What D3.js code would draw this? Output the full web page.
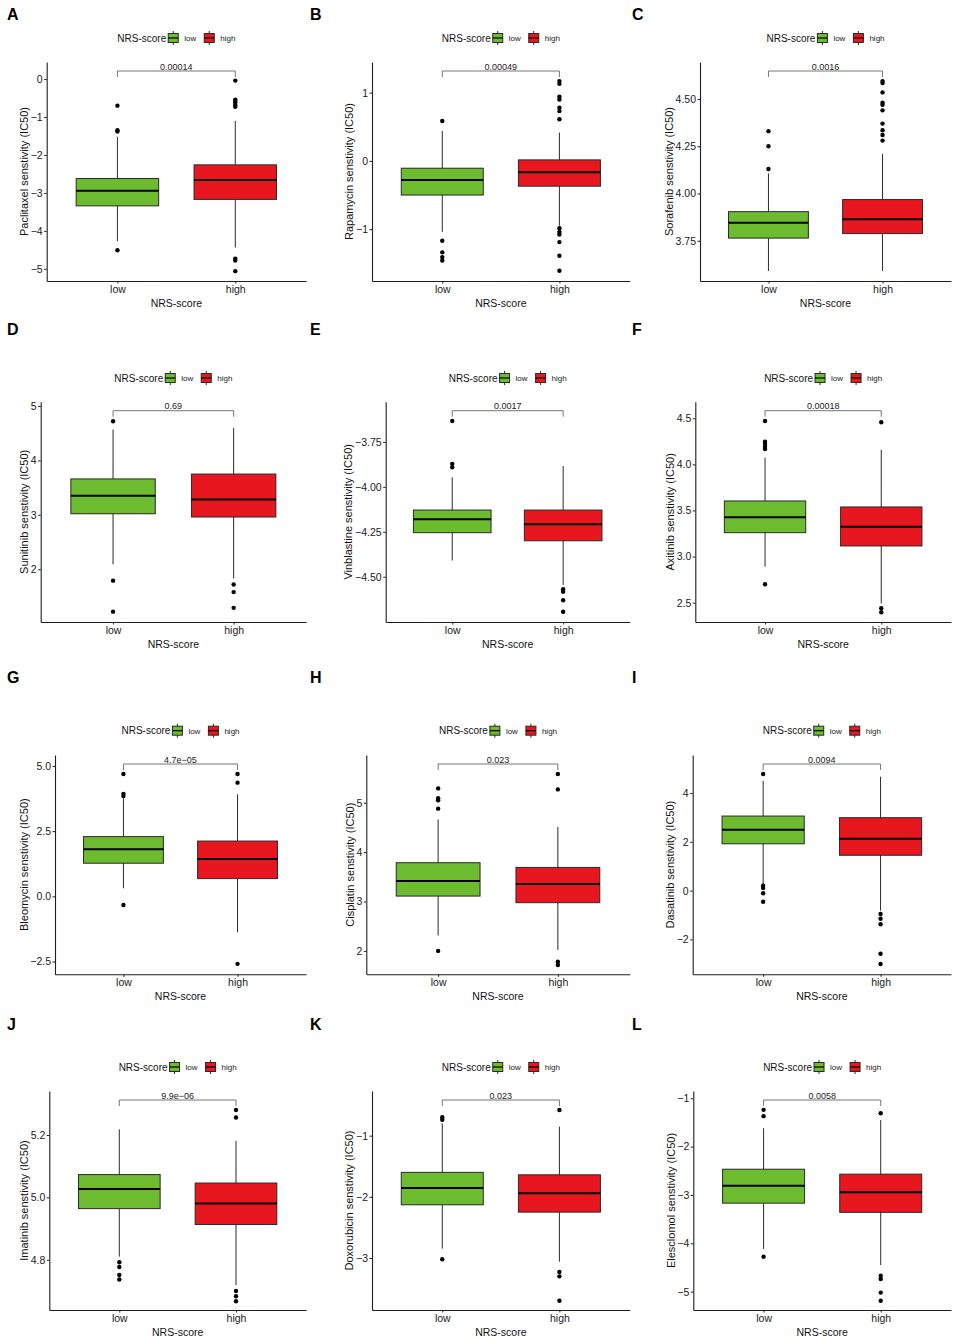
<!DOCTYPE html>
<html><head><meta charset="utf-8">
<script src="https://cdn.jsdelivr.net/npm/d3@7"></script>
<style>
body{margin:0;background:#fff;}
svg{display:block;font-family:"Liberation Sans",Arial,Helvetica,sans-serif;}
</style>
</head><body>
<svg id="chart" width="954" height="1339"></svg>
<script>
// ---------------- DATA ----------------
const panelLetters = ["A","B","C","D","E","F","G","H","I","J","K","L"];
const drugs = ["Paclitaxel","Rapamycin","Sorafenib","Sunitinib","Vinblastine","Axitinib",
               "Bleomycin","Cisplatin","Dasatinib","Imatinib","Doxorubicin","Elesclomol"];
const groups = ["low","high"];
const legendTitle = "NRS-score";
const pValues = ["0.00014","0.00049","0.0016","0.69","0.0017","0.00018",
                 "4.7e\u221205","0.023","0.0094","9.9e\u221206","0.023","0.0058"];
// box stats: [lower whisker, Q1, median, Q3, upper whisker]
const lowStats = [
  [-4.27,-3.34,-2.94,-2.62,-1.52],
  [-1.04,-0.50,-0.28,-0.107,0.44],
  [3.59,3.764,3.845,3.904,4.106],
  [2.09,3.02,3.35,3.66,4.57],
  [-4.41,-4.255,-4.18,-4.129,-3.947],
  [2.89,3.259,3.426,3.603,4.073],
  [0.31,1.27,1.806,2.29,3.76],
  [2.31,3.11,3.415,3.785,4.66],
  [0.27,1.92,2.5,3.057,4.5],
  [4.81,4.964,5.027,5.073,5.218],
  [-2.846,-2.13,-1.855,-1.60,-0.80],
  [-4.12,-3.17,-2.81,-2.468,-1.62]
];
const highStats = [
  [-4.44,-3.17,-2.66,-2.26,-1.10],
  [-0.95,-0.37,-0.166,0.015,0.415],
  [3.59,3.788,3.864,3.968,4.21],
  [1.83,2.96,3.28,3.75,4.60],
  [-4.546,-4.30,-4.208,-4.129,-3.884],
  [2.49,3.115,3.324,3.538,4.156],
  [-1.38,0.68,1.43,2.12,3.91],
  [2.02,2.976,3.354,3.69,4.51],
  [-0.82,1.45,2.13,2.99,4.67],
  [4.719,4.913,4.98,5.046,5.181],
  [-3.06,-2.25,-1.94,-1.64,-0.853],
  [-4.45,-3.36,-2.944,-2.57,-1.45]
];
const lowOutliers = [
  [-0.70,-1.35,-1.38,-4.51],
  [0.585,-1.17,-1.34,-1.41,-1.46],
  [4.33,4.25,4.13],
  [4.72,1.79,1.22],
  [-3.633,-3.872,-3.891],
  [4.47,4.246,4.22,4.19,4.167,2.70],
  [4.69,3.93,3.85,-0.33],
  [5.29,5.09,5.05,4.88,2.0],
  [4.78,0.2,0.107,-0.11,-0.455],
  [4.792,4.777,4.751,4.737],
  [-0.70,-0.74,-3.02],
  [-1.24,-1.37,-4.28]
];
const highOutliers = [
  [-0.04,-0.54,-0.58,-0.62,-0.68,-0.73,-4.73,-4.78,-5.06],
  [1.17,1.13,0.94,0.90,0.78,0.73,0.61,-0.985,-1.04,-1.08,-1.19,-1.39,-1.61],
  [4.595,4.585,4.535,4.48,4.47,4.44,4.37,4.335,4.31,4.28],
  [1.72,1.58,1.29],
  [-4.57,-4.583,-4.631,-4.695],
  [4.457,2.44,2.396],
  [4.69,4.36,-2.59],
  [5.58,5.27,1.78,1.715],
  [-0.96,-1.15,-1.38,-2.59,-3.01],
  [5.28,5.256,4.70,4.683,4.667],
  [-0.58,-3.23,-3.30,-3.70],
  [-1.31,-4.67,-4.74,-5.02,-5.19]
];
const yDomains = [
  [-5.32,0.45],[-1.76,1.45],[3.537,4.696],
  [1.03,5.08],[-4.752,-3.526],[2.29,4.68],
  [-2.99,5.42],[1.526,5.966],[-3.43,5.56],
  [4.639,5.341],[-3.85,-0.27],[-5.38,-0.85]
];
const yTickLabels = [
  ["\u22125","\u22124","\u22123","\u22122","\u22121","0"],
  ["\u22121","0","1"],
  ["3.75","4.00","4.25","4.50"],
  ["2","3","4","5"],
  ["\u22124.50","\u22124.25","\u22124.00","\u22123.75"],
  ["2.5","3.0","3.5","4.0","4.5"],
  ["\u22122.5","0.0","2.5","5.0"],
  ["2","3","4","5"],
  ["\u22122","0","2","4"],
  ["4.8","5.0","5.2"],
  ["\u22123","\u22122","\u22121"],
  ["\u22125","\u22124","\u22123","\u22122","\u22121"]
];

// ---------------- LAYOUT / STYLE ----------------
const rowLayout = [
  {top:62,    bottom:281,   legendY:38,    letterY:14},
  {top:401.7, bottom:622,   legendY:378,   letterY:329},
  {top:755,   bottom:974.3, legendY:730.7, letterY:677},
  {top:1091,  bottom:1310,  legendY:1067,  letterY:1024}
];
const colRight = [306, 629.7, 951];
const colLetterX = [7, 310, 632];
const axisLeftX = [46.7,372,700, 40.7,385.7,695.3, 55,366.3,692.7, 49.3,372,693.3];
const fills = {low:"#6DBB2E", high:"#E8161F"};
const ink = "#1e1e1e";

const svg = d3.select("#chart");
const parseLab = s => +s.replace("\u2212","-");

panelLetters.forEach((letter, i) => {
  const row = rowLayout[Math.floor(i/3)];
  const col = i % 3;
  const x0 = axisLeftX[i], x1 = colRight[col];
  const g = svg.append("g");

  // panel letter
  g.append("text").attr("x", colLetterX[col]).attr("y", row.letterY + 5.6)
    .attr("font-size", 16).attr("font-weight", "bold").attr("fill", "#000").text(letter);

  const x = d3.scalePoint().domain(groups).range([x0, x1]).padding(0.6);
  const y = d3.scaleLinear().domain(yDomains[i]).range([row.bottom, row.top]);
  const boxW = 0.7 * x.step();

  // y axis
  const yAx = g.append("g").attr("transform", `translate(${x0},0)`)
    .call(d3.axisLeft(y).tickValues(yTickLabels[i].map(parseLab))
      .tickFormat((d, k) => yTickLabels[i][k]).tickSize(2.5).tickPadding(1.5).tickSizeOuter(0));
  yAx.selectAll("text").attr("font-size", 10.5).attr("fill", "#1a1a1a")
    .attr("font-family", "'Liberation Sans',Arial,sans-serif");
  yAx.select(".domain").attr("stroke", ink).attr("stroke-width", 1.1);
  yAx.selectAll(".tick line").attr("stroke", ink);
  let maxW = 0;
  yAx.selectAll("text").each(function(){ maxW = Math.max(maxW, this.getComputedTextLength()); });

  // x axis
  const xAx = g.append("g").attr("transform", `translate(0,${row.bottom})`)
    .call(d3.axisBottom(x).tickSize(2.5).tickPadding(2).tickSizeOuter(0));
  xAx.selectAll("text").attr("font-size", 10.5).attr("fill", "#1a1a1a")
    .attr("font-family", "'Liberation Sans',Arial,sans-serif");
  xAx.select(".domain").attr("stroke", ink).attr("stroke-width", 1.1);
  xAx.selectAll(".tick line").attr("stroke", ink);

  // axis titles
  g.append("text").attr("x", (x0 + x1) / 2).attr("y", row.bottom + 25.8)
    .attr("text-anchor", "middle").attr("font-size", 10.5).attr("fill", "#111").text(legendTitle);
  const ty = (row.top + row.bottom) / 2, tx = x0 - 4 - maxW - 6.5;
  g.append("text").attr("transform", `translate(${tx},${ty}) rotate(-90)`)
    .attr("text-anchor", "middle").attr("dy", "0.35em").attr("font-size", 11).attr("fill", "#111")
    .text(`${drugs[i]} senstivity (IC50)`);

  // boxes
  const stats = {low: lowStats[i], high: highStats[i]};
  const outs = {low: lowOutliers[i], high: highOutliers[i]};
  groups.forEach(grp => {
    const s = stats[grp], cx = x(grp);
    g.append("line").attr("x1", cx).attr("x2", cx).attr("y1", y(s[0])).attr("y2", y(s[4]))
      .attr("stroke", "#2b2b2b").attr("stroke-width", 1);
    g.append("rect").attr("x", cx - boxW/2).attr("width", boxW)
      .attr("y", y(s[3])).attr("height", y(s[1]) - y(s[3]))
      .attr("fill", fills[grp]).attr("stroke", "#2a2a2a").attr("stroke-width", 1);
    g.append("line").attr("x1", cx - boxW/2).attr("x2", cx + boxW/2)
      .attr("y1", y(s[2])).attr("y2", y(s[2])).attr("stroke", "#000").attr("stroke-width", 2);
    g.selectAll(null).data(outs[grp]).enter().append("circle")
      .attr("cx", cx).attr("cy", d => y(d)).attr("r", 2.2).attr("fill", "#000");
  });

  // significance bracket
  const by = row.top + 9;
  g.append("path")
    .attr("d", `M${x("low")},${by + 6}V${by}H${x("high")}V${by + 6}`)
    .attr("fill", "none").attr("stroke", "#666").attr("stroke-width", 0.9);
  g.append("text").attr("x", (x("low") + x("high")) / 2).attr("y", by - 1.5)
    .attr("text-anchor", "middle").attr("font-size", 9).attr("fill", "#222").text(pValues[i]);

  // legend
  const lg = g.append("g");
  const ly = row.legendY;
  const tTitle = lg.append("text").attr("y", ly).attr("dy", "0.35em")
    .attr("font-size", 10).attr("fill", "#111").text(legendTitle);
  const wTitle = tTitle.node().getComputedTextLength();
  let cur = wTitle + 2;
  groups.forEach((grp, k) => {
    const kx = cur;
    lg.append("line").attr("x1", kx + 5).attr("x2", kx + 5).attr("y1", ly - 7).attr("y2", ly + 7)
      .attr("stroke", "#2b2b2b").attr("stroke-width", 1);
    lg.append("rect").attr("x", kx).attr("y", ly - 4.5).attr("width", 10).attr("height", 9)
      .attr("fill", fills[grp]).attr("stroke", "#2a2a2a").attr("stroke-width", 1);
    lg.append("line").attr("x1", kx).attr("x2", kx + 10).attr("y1", ly).attr("y2", ly)
      .attr("stroke", "#000").attr("stroke-width", 1.2);
    const t = lg.append("text").attr("x", kx + 16).attr("y", ly).attr("dy", "0.35em")
      .attr("font-size", 8).attr("fill", "#222").text(grp);
    cur = kx + 16 + t.node().getComputedTextLength() + (k === 0 ? 8 : 0);
  });
  lg.attr("transform", `translate(${(x0 + x1) / 2 - cur / 2},0)`);
});
</script>
</body></html>
